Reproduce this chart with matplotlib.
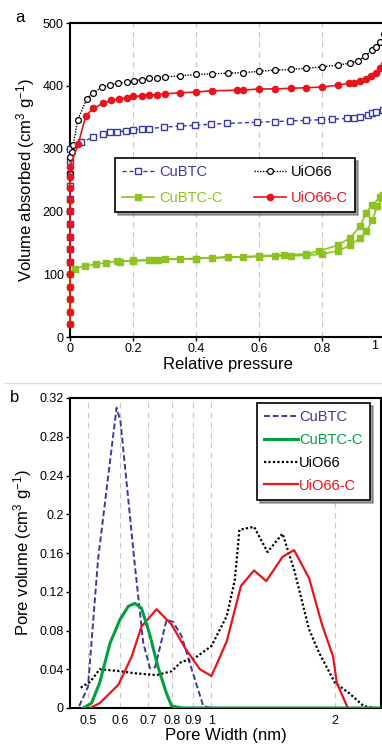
import matplotlib
matplotlib.use('Agg')
import matplotlib.pyplot as plt
from matplotlib.lines import Line2D

plt.rcParams['font.family'] = ['Liberation Sans', 'DejaVu Sans']
plt.rcParams['mathtext.default'] = 'regular'

# ---- panel a: N2 isotherms ----
cubtc_p = [0, 0, 0, 0, 0, 0, 0, 0, 0, 0, 0.035, 0.074, 0.105, 0.127, 0.15, 0.178, 0.2, 0.228,
           0.252, 0.298, 0.349, 0.397, 0.447, 0.498, 0.595, 0.65, 0.698, 0.748, 0.798,
           0.833, 0.88, 0.9, 0.92, 0.945, 0.96, 0.97, 0.995]
cubtc_v = [120, 140, 160, 180, 200, 220, 240, 260, 280, 300, 310, 318, 323, 326, 327, 328, 330, 331,
           332, 334, 336, 337, 339, 340, 342, 343, 344, 345, 346,
           347, 348, 349, 350, 353, 356, 358, 362]

uio_p = [0, 0, 0.005, 0.01, 0.025, 0.053, 0.074, 0.101, 0.127, 0.152, 0.18, 0.203, 0.228, 0.25,
         0.276, 0.3, 0.35, 0.4, 0.45, 0.5, 0.55, 0.6, 0.65, 0.7, 0.75, 0.8, 0.85, 0.89,
         0.915, 0.937, 0.958, 0.97, 0.985, 0.998]
uio_v = [260, 287, 295, 306, 346, 379, 389, 398, 401, 404, 406, 408, 410, 412,
         413, 414, 416, 418, 419, 420, 421, 423, 425, 426, 428, 430, 433, 436,
         440, 447, 457, 462, 470, 482]

cubtcc_p = [0, 0, 0, 0, 0, 0.016, 0.047, 0.084, 0.115, 0.15, 0.2, 0.25, 0.28, 0.35, 0.4, 0.45,
            0.5, 0.55, 0.6, 0.65, 0.7, 0.75, 0.8, 0.85, 0.89, 0.92, 0.94, 0.96, 0.975, 0.99,
            0.995, 0.985, 0.96, 0.94, 0.92, 0.89, 0.85, 0.79, 0.75, 0.68, 0.6, 0.5, 0.4,
            0.3, 0.26, 0.2, 0.16]
cubtcc_v = [20, 40, 60, 80, 100, 109, 113, 116, 118, 121, 121, 122, 123, 124, 125, 126,
            127, 127, 128, 129, 129, 130, 132, 137, 146, 157, 168, 186, 208, 222,
            226, 223, 210, 198, 176, 158, 146, 137, 132, 131, 129, 127, 125,
            124, 123, 122, 120]

uioc_p = [0, 0, 0, 0, 0, 0, 0, 0, 0, 0, 0, 0, 0, 0, 0.026, 0.05, 0.074, 0.105, 0.13, 0.155, 0.18,
          0.2, 0.23, 0.25, 0.276, 0.3, 0.35, 0.4, 0.45, 0.53, 0.55, 0.6, 0.65, 0.7, 0.75,
          0.8, 0.85, 0.885, 0.9, 0.92, 0.94, 0.955, 0.97, 0.985, 0.998]
uioc_v = [20, 40, 60, 80, 100, 120, 140, 160, 180, 200, 218, 237, 255, 271, 307, 352, 364, 372,
          377, 379, 381, 383, 384, 385, 386, 387, 389, 390, 392, 393, 393, 395, 395, 396, 397,
          398, 401, 404, 405, 408, 411, 416, 421, 428, 434]

p_ticks = [0, 0.2, 0.4, 0.6, 0.8, 1]
p_ticklabels = ['0', '0.2', '0.4', '0.6', '0.8', '1']
v_ticks = [0, 100, 200, 300, 400, 500]

# ---- panel b: pore size distribution ----
psd_cubtc_w = [0.476, 0.5, 0.529, 0.587, 0.6, 0.651, 0.682, 0.708, 0.729, 0.777, 0.806,
               0.846, 0.895, 0.955, 1.0, 2.6]
psd_cubtc_v = [0.002, 0.022, 0.153, 0.31, 0.296, 0.146, 0.067, 0.041, 0.042, 0.091, 0.089,
               0.074, 0.04, 0.002, 0, 0]

psd_cubtcc_w = [0.487, 0.51, 0.534, 0.566, 0.598, 0.627, 0.651, 0.675, 0.706, 0.74, 0.777,
                0.8, 0.85, 2.6]
psd_cubtcc_v = [0, 0.005, 0.026, 0.067, 0.091, 0.105, 0.108, 0.103, 0.077, 0.043, 0.015,
                0.002, 0, 0]

psd_uio_w = [0.48, 0.506, 0.534, 0.566, 0.598, 0.645, 0.735, 0.8, 0.846, 0.9, 1.0, 1.09,
             1.14, 1.17, 1.27, 1.37, 1.49, 1.59, 1.73, 1.83, 2.0, 2.17, 2.35, 2.5]
psd_uio_v = [0.021, 0.027, 0.04, 0.039, 0.038, 0.036, 0.034, 0.038, 0.048, 0.05, 0.064,
             0.095, 0.132, 0.184, 0.187, 0.161, 0.18, 0.143, 0.081, 0.057, 0.026, 0.015,
             0.002, 0]

psd_uioc_w = [0.506, 0.534, 0.593, 0.639, 0.675, 0.735, 0.8, 0.862, 0.937, 1.0, 1.09, 1.18,
              1.27, 1.36, 1.49, 1.59, 1.73, 1.86, 1.98, 2.02, 2.15]
psd_uioc_v = [0, 0.005, 0.024, 0.053, 0.084, 0.102, 0.086, 0.062, 0.04, 0.033, 0.069, 0.126,
              0.142, 0.131, 0.156, 0.163, 0.134, 0.086, 0.053, 0.026, 0]

w_ticks = [0.5, 0.6, 0.7, 0.8, 0.9, 1, 2]
w_ticklabels = ['0.5', '0.6', '0.7', '0.8', '0.9', '1', '2']
pv_ticks = [0, 0.04, 0.08, 0.12, 0.16, 0.2, 0.24, 0.28, 0.32]
pv_ticklabels = ['0', '0.04', '0.08', '0.12', '0.16', '0.2', '0.24', '0.28', '0.32']

blue = '#3a3aa0'
red = '#e8141b'
lime = '#8dc21f'
green = '#00a040'

fig = plt.figure(figsize=(3.82, 7.5), dpi=100)

# panel a
ax1 = fig.add_axes([70 / 382, 1 - 337 / 750, 315 / 382, 314 / 750])
ax1.plot(cubtc_p, cubtc_v, marker='s', ls=(0, (3, 2)), color=blue, mfc='white', mec=blue,
         ms=4.2, mew=1.0, lw=1.0, label='CuBTC', clip_on=False, zorder=3)
ax1.plot(uio_p, uio_v, marker='o', ls=(0, (1, 1)), color='black', mfc='white', mec='black',
         ms=4.2, mew=0.9, lw=1.0, label='UiO66', clip_on=False, zorder=3)
ax1.plot(cubtcc_p, cubtcc_v, '-s', color=lime, mfc=lime, mec=lime, ms=4.5, lw=1.2,
         label='CuBTC-C', clip_on=False, zorder=3)
ax1.plot(uioc_p, uioc_v, '-o', color=red, mfc=red, mec=red, ms=4.5, lw=1.2,
         label='UiO66-C', clip_on=False, zorder=4)
ax1.set_xlim(0, 1)
ax1.set_ylim(0, 500)
ax1.set_xticks(p_ticks)
# the "1" label sits on the figure's right edge: draw it just inside
ax1.set_xticklabels(p_ticklabels[:-1] + [''])
ax1.annotate(p_ticklabels[-1], xy=(1, 0), xycoords='axes fraction', xytext=(-5, -2.5),
             textcoords='offset points', ha='right', va='top', fontsize=9)
ax1.set_yticks(v_ticks)
for x in p_ticks[1:-1]:
    ax1.axvline(x, color='#c8c8c8', lw=0.8, ls=(0, (5, 4)), zorder=1)
ax1.set_xlabel('Relative pressure', fontsize=12, labelpad=1)
ax1.set_ylabel('Volume absorbed (cm$^3$ g$^{-1}$)', fontsize=12, labelpad=4)
ax1.tick_params(labelsize=9, length=3, width=1, pad=1.5)
for s in ax1.spines.values():
    s.set_linewidth(1.5)

h = ax1.get_legend_handles_labels()[0]
order = [0, 2, 1, 3]
leg1 = ax1.legend([h[i] for i in order], ['CuBTC', 'CuBTC-C', 'UiO66', 'UiO66-C'],
                  ncol=2, loc='upper left', bbox_to_anchor=(0.143, 0.57), borderaxespad=0,
                  fontsize=10.5, labelcolor='linecolor', fancybox=False, shadow=True,
                  edgecolor='black', framealpha=1, handlelength=2.2, columnspacing=2.2,
                  labelspacing=0.8, handletextpad=0.3, borderpad=0.5)
leg1.get_frame().set_linewidth(1.2)

# panel b
ax2 = fig.add_axes([70 / 382, 1 - 708 / 750, 311 / 382, 310 / 750])
ax2.set_xscale('log')
ax2.plot(psd_cubtc_w, psd_cubtc_v, ls=(0, (3, 1.5)), color=blue, lw=1.4, label='CuBTC',
         zorder=3)
ax2.plot(psd_uio_w, psd_uio_v, ls=(0, (1, 1)), color='black', lw=1.6, label='UiO66', zorder=3)
ax2.plot(psd_uioc_w, psd_uioc_v, '-', color=red, lw=1.6, label='UiO66-C', zorder=3)
ax2.plot(psd_cubtcc_w, psd_cubtcc_v, '-', color=green, lw=2.2, label='CuBTC-C', zorder=3)
ax2.set_xlim(0.452, 2.59)
ax2.set_ylim(0, 0.32)
ax2.set_xticks(w_ticks)
ax2.set_xticklabels(w_ticklabels)
ax2.minorticks_off()
ax2.set_yticks(pv_ticks)
ax2.set_yticklabels(pv_ticklabels)
for x in w_ticks:
    ax2.axvline(x, color='#c8c8c8', lw=0.8, ls=(0, (5, 4)), zorder=1)
ax2.set_xlabel('Pore Width (nm)', fontsize=12, labelpad=1)
ax2.set_ylabel('Pore volume (cm$^3$ g$^{-1}$)', fontsize=12, labelpad=4)
ax2.tick_params(labelsize=9, length=3, width=1, pad=1.5)
ax2.tick_params(axis='x', length=0, pad=5)
for s in ax2.spines.values():
    s.set_linewidth(1.5)
hb, lb = ax2.get_legend_handles_labels()
order_b = [0, 3, 1, 2]
leg2 = ax2.legend([hb[i] for i in order_b], [lb[i] for i in order_b],
                  loc='upper left', bbox_to_anchor=(0.601, 0.984), borderaxespad=0,
                  fontsize=10.5, labelcolor='linecolor', fancybox=False, shadow=True,
                  edgecolor='black', framealpha=1, handlelength=2.3, labelspacing=0.6,
                  handletextpad=0.1, borderpad=0.5)
leg2.get_frame().set_linewidth(1.2)

# panel letters and separator
fig.text(20 / 382, 1 - 18 / 750, 'a', fontsize=12, ha='center', va='center')
fig.text(15 / 382, 1 - 397 / 750, 'b', fontsize=12, ha='center', va='center')
fig.add_artist(Line2D([5 / 382, 1], [1 - 383 / 750] * 2, color='#dddddd', lw=1))

fig.savefig('out.png', dpi=100)
